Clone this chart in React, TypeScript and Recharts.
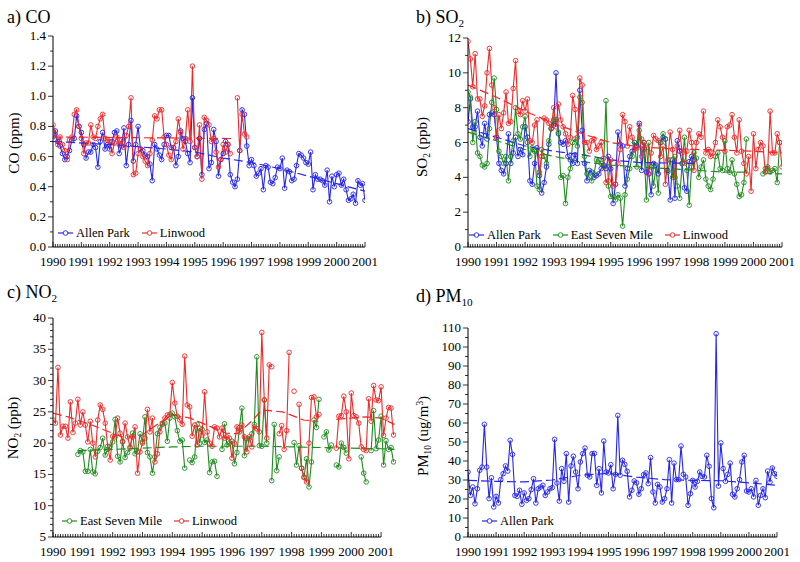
import React from 'react';
import { LineChart, Line, XAxis, YAxis, ReferenceLine } from 'recharts';

const FONT = "'Liberation Serif', Tinos, 'Times New Roman', Times, 'DejaVu Serif', serif";
const BLUE = '#2525ee';
const RED = '#f02828';
const GREEN = '#1f8c1f';

// monthly values, index 0 = Jan 1990
const CO_ALLEN_PARK = [
  0.73, 0.77, 0.70, 0.67, 0.62, 0.58, 0.60, 0.64, 0.71, 0.72, 0.87, 0.80,
  0.76, 0.68, 0.59, 0.63, 0.63, 0.68, 0.66, 0.53, 0.70, 0.76, 0.65, 0.68,
  0.65, 0.70, 0.76, 0.77, 0.62, 0.67, 0.79, 0.54, 0.68, 0.84, 0.57, 0.68,
  0.80, 0.65, 0.64, 0.61, 0.60, 0.55, 0.44, 0.68, 0.65, 0.61, 0.58, 0.68,
  0.74, 0.74, 0.66, 0.66, 0.54, 0.60, 0.77, 0.72, 0.70, 0.62, 0.56, 0.99,
  0.66, 0.60, 0.72, 0.48, 0.78, 0.82, 0.52, 0.56, 0.78, 0.70, 0.47, 0.58,
  0.62, 0.70, 0.68, 0.48, 0.43, 0.40, 0.45, 0.64, 0.91, 0.88, 0.67, 0.54,
  0.58, 0.54, 0.47, 0.49, 0.52, 0.38, 0.54, 0.53, 0.43, 0.42, 0.46, 0.53,
  0.52, 0.59, 0.39, 0.51, 0.50, 0.44, 0.45, 0.54, 0.62, 0.61, 0.59, 0.56,
  0.55, 0.63, 0.38, 0.48, 0.45, 0.45, 0.44, 0.41, 0.51, 0.30, 0.47, 0.40,
  0.48, 0.49, 0.41, 0.45, 0.38, 0.31, 0.32, 0.35, 0.29, 0.44, 0.41, 0.42,
  0.31,
];
const CO_LINWOOD = [
  0.81, 0.75, 0.68, 0.73, 0.68, 0.64, 0.58, 0.71, 0.73, 0.88, 0.91, 0.80,
  0.72, 0.62, 0.69, 0.69, 0.81, 0.73, 0.72, 0.80, 0.85, 0.88, 0.72, 0.71,
  0.70, 0.62, 0.69, 0.73, 0.68, 0.71, 0.66, 0.74, 0.80, 0.99, 0.48, 0.49,
  0.62, 0.65, 0.60, 0.57, 0.54, 0.62, 0.71, 0.87, 0.85, 0.91, 0.91, 0.73,
  0.68, 0.61, 0.58, 0.66, 0.70, 0.85, 0.76, 0.65, 0.72, 0.91, 0.70, 1.20,
  0.66, 0.60, 0.81, 0.45, 0.86, 0.84, 0.81, 0.70, 0.72, 0.63, 0.53, 0.58,
  0.68, 0.63, 0.68, 0.62, null, null, 0.99, 0.64, 0.88, 0.75, 0.73,
];
const CO_AP_TREND: [number, number | null][] = [
  [1990, 0.70], [1992, 0.68], [1994, 0.65], [1995, 0.63], [1996, 0.59], [1997, 0.56],
  [1998, 0.52], [1999, 0.47], [2000, 0.42], [2001, 0.37],
];
const CO_LW_TREND: [number, number | null][] = [[1990, 0.73], [1996.3, 0.72]];

const SO2_ALLEN_PARK = [
  7.2, 8.5, 6.9, 6.9, 7.8, 6.3, 5.8, 7.1, 6.2, 7.6, 7.7, 7.6,
  6.3, 4.8, 4.4, 4.2, 4.8, 6.5, 4.8, 5.4, 6.3, 5.2, 5.6, 5.3,
  6.9, 6.3, 3.8, 3.6, 4.8, 5.7, 4.1, 3.1, 3.7, 4.6, 5.9, 6.8,
  7.0, 10.0, 6.5, 6.0, 5.9, 6.1, 5.2, 5.0, 4.8, 5.3, 4.8, 9.0,
  6.7, 4.8, 3.8, 4.4, 4.3, 4.0, 4.1, 4.2, 4.5, 4.7, 4.5, 5.2,
  4.5, 2.5, 3.6, 6.6, 5.9, 5.8, 3.5, 4.5, 5.2, 5.5, 6.0, 5.8,
  7.1, 4.4, 6.0, 4.3, 4.2, 3.0, 4.8, 4.7, 4.2, 6.0, 6.3, 6.2,
  4.4, 2.7, 5.0, 2.8, 6.1, 5.5, 4.8, 3.4, 3.2, 4.9, 5.2, 5.0,
];
const SO2_EAST_SEVEN_MILE = [
  8.9, 8.6, 6.0, 7.2, 5.4, 5.2, 4.7, 4.6, 4.8, 6.8, 8.3, 9.7,
  7.9, 5.5, 5.2, 4.8, 5.2, 3.8, 5.2, 6.1, 8.0, 6.5, 6.2, 6.9,
  7.5, 6.0, 5.2, 5.7, 5.5, 3.5, 3.3, 5.6, 5.2, 4.8, 6.1, 6.8,
  7.3, 7.3, 6.6, 4.0, 4.1, 2.5, 4.0, 4.5, 6.0, 6.2, 5.8, 8.6,
  8.3, 5.2, 4.2, 4.0, 3.8, 4.2, 5.0, 5.0, 4.8, 4.6, 8.4, 3.5,
  2.9, 2.9, 2.7, 3.0, 2.8, 1.2, 3.0, 3.9, 4.5, 5.2, 6.0, 4.6,
  6.7, 6.2, 5.6, 2.7, 6.0, 4.6, 3.5, 4.6, 3.1, 6.0, 6.5, 6.2,
  4.3, 5.0, 4.0, 5.2, 3.5, 2.8, 4.8, 6.3, 4.4, 2.4, 4.6, 5.4,
  5.1, 4.0, 4.6, 5.0, 3.9, 3.5, 3.3, 3.9, 5.2, 5.4, 4.5, 4.4,
  6.1, 4.5, 4.3, 5.0, 4.2, 3.6, 2.9, 3.0, 3.7, 6.2, null, null,
  null, null, null, null, 4.2, 4.5, 4.6, 4.3, 4.4, 4.5, 3.7, 6.0,
];
const SO2_LINWOOD = [
  11.8, 10.8, 9.2, 11.1, 8.5, 8.5, 7.5, 8.1, 10.0, 11.4, 9.3, 8.0,
  6.3, 7.6, 6.8, 7.7, 8.9, 7.1, 7.2, 9.1, 10.7, 7.8, 7.6, 8.4,
  7.8, 8.5, 6.1, 6.0, 7.0, 7.3, 4.3, 5.2, 7.4, 7.3, 7.1, 6.8,
  8.0, 6.9, 8.2, 7.3, 6.9, 6.5, 5.9, 6.3, 8.7, 7.9, 6.3, 9.7,
  9.3, 6.0, 6.0, 5.5, 6.1, 6.2, 5.6, 5.8, 6.0, 5.1, 3.7, 3.8,
  5.0, 3.5, 3.6, 4.8, 5.6, 7.6, 7.2, 5.8, 6.9, 6.3, 5.6, 5.7,
  7.0, 5.2, 6.0, 5.7, 4.2, 5.4, 6.4, 6.2, 6.1, 5.2, 5.8, 3.6,
  5.0, 6.6, 5.6, 4.0, 5.8, 6.7, 5.4, 4.8, 5.5, 6.7, 6.0, 4.4,
  6.0, 6.5, 6.3, 7.8, 5.4, 5.6, 5.2, 5.4, 6.0, 7.3, 6.9, 6.3,
  5.5, 6.9, 7.0, 7.6, 6.3, 5.4, 7.3, 5.5, 4.8, 4.2, 5.2, 3.2,
  6.5, 4.5, 5.6, 6.0, 5.8, 4.3, 4.5, 7.8, 5.4, 5.4, 6.5, 6.0,
  4.6,
];
const SO2_AP_TREND: [number, number | null][] = [
  [1990, 6.8], [1991, 6.3], [1992, 5.8], [1993, 5.5], [1994, 5.3], [1995, 5.0],
  [1996, 4.85], [1997.92, 4.8],
];
const SO2_ESM_TREND: [number, number | null][] = [
  [1990, 6.6], [1991, 6.1], [1992, 5.6], [1993, 5.2], [1994, 4.9], [1995, 4.7],
  [1996, 4.6], [1997, 4.5], [1998, 4.4], [1999, 4.3], [1999.75, 4.3], [2000, null],
  [2000.33, 4.25], [2001, 4.2],
];
const SO2_LW_TREND: [number, number | null][] = [
  [1990, 9.3], [1991, 8.6], [1992, 7.8], [1993, 7.1], [1994, 6.5], [1995, 6.0],
  [1996, 5.75], [1997, 5.65], [1998, 5.6], [1999, 5.55], [2000, 5.5], [2001, 5.4],
];

const NO2_EAST_SEVEN_MILE = [
  null, null, null, null, null, null, null, null, null, null, 18.2, 18.8,
  18.6, 15.5, 15.5, 19.0, 15.4, 15.1, 18.7, 19.3, 20.8, 18.1, 19.0, 19.5,
  20.2, 23.8, 17.9, 17.0, 20.3, 17.7, 18.5, 19.2, 21.6, 18.3, 18.6, 21.5,
  20.2, 24.2, 18.5, 17.8, 15.2, 17.8, 21.5, 22.5, 23.0, 23.2, 20.3, 24.0,
  24.8, 24.2, 22.0, 20.3, 20.5, 16.0, null, 17.3, 16.9, 17.8, 23.0, 20.0,
  22.2, 20.1, 20.5, 15.3, 17.0, 17.1, 14.7, null, 19.0, 23.1, 19.7, 20.0,
  20.3, 16.7, 18.5, 22.5, 25.6, 18.0, 20.7, 20.7, 21.5, 23.0, 33.8, 19.6,
  19.5, 26.9, 20.0, null, 14.0, 23.0, 15.6, 17.8, null, null, null, null,
  null, 20.1, 16.5, 19.6, 16.0, 14.6, 17.5, 13.0, 17.0, 23.7, 22.5, 27.0,
  null, 21.0, 21.8, 18.9, 19.7, null, 16.5, 16.2, 20.0, 19.3, 18.4, null,
  null, null, null, null, 17.8, 15.2, 13.8, null, 18.8, 25.2, 19.1, 20.5,
  24.3, 16.5, 20.4, 19.0, 19.3, 17.0,
];
const NO2_LINWOOD = [
  23.7, 23.2, 32.1, 21.3, 22.7, 22.7, 20.8, 26.6, 21.7, 23.2, 27.0, 22.9,
  25.0, 22.9, 20.2, 23.5, 20.0, 17.8, 23.7, 26.1, 25.4, 23.2, 19.5, 17.3,
  21.1, 21.0, 24.0, 21.6, 20.2, 23.2, 21.0, 19.4, 21.0, 22.6, 15.2, 18.6,
  20.0, 20.8, 25.4, 21.8, 24.0, 17.0, 18.3, 21.8, 23.2, 24.0, 24.5, 24.6,
  29.7, 26.4, 24.3, 23.7, 23.0, 33.9, 26.1, 25.8, 21.1, 22.9, 19.7, 22.4,
  21.3, 28.2, 21.8, 20.0, 19.5, 22.6, 22.4, 21.0, 22.4, 20.8, 21.0, 20.8,
  17.6, 20.0, 22.6, 21.8, 22.9, 21.0, 18.6, 21.0, 19.4, 22.6, 22.3, 21.8,
  37.7, 26.9, 20.8, 32.5, 32.2, null, null, 21.5, 22.8, 19.0, 22.0, 34.5,
  null, 28.3, null, 26.2, 16.0, 14.5, 13.8, 20.0, 27.3, 27.4, 24.2, 24.6,
  null, null, null, null, null, null, 19.2, 24.3, 24.4, 27.5, 25.0, 17.5,
  28.0, 24.4, 24.2, 23.2, 19.4, 19.0, 18.8, 27.1, 23.5, 29.2, 26.9, 26.8,
  29.0, 21.2, 24.0, 25.7, 25.6, 21.3,
];
const NO2_ESM_TREND: [number, number | null][] = [
  [1990.83, 18.8], [1992, 19.0], [1993, 19.2], [1994, 19.4], [1995, 19.5], [1996, 19.5],
  [1997, 19.5], [1998, 19.4], [1999, 19.3], [2000, 19.2], [2001, 19.1], [2001.45, 19.0],
];
const NO2_LW_TREND: [number, number | null][] = [
  [1990, 24.8], [1990.5, 24.2], [1991.3, 22.9], [1992.3, 21.0], [1992.9, 21.0], [1993.5, 23.0],
  [1994, 24.5], [1994.6, 24.0], [1995.3, 22.6], [1995.8, 21.6], [1996.2, 21.5], [1996.7, 23.7],
  [1997, 25.3], [1997.7, 25.0], [1998.4, 23.7], [1998.9, 23.5], [1999.2, null],
  [1999.5, 23.8], [2000.5, 24.2], [2001, 24.0], [2001.45, 23.0],
];

const PM10_ALLEN_PARK = [
  34.2, 21.9, 26.3, 17.5, 25.4, 35.1, 36.8, 59.3, 36.8, 20.2, 31.2, 15.8,
  21.4, 17.9, 30.2, 33.3, 37.4, 34.7, 50.9, 43.5, 21.9, 21.4, 24.6, 17.2,
  23.2, 19.3, 20.2, 24.9, 30.7, 17.9, 25.4, 26.3, 27.2, 21.9, 23.7, 25.4,
  26.0, 51.4, 28.4, 18.9, 36.0, 29.3, 43.9, 18.4, 37.4, 42.5, 34.2, 25.4,
  39.5, 43.9, 46.8, 32.5, 31.6, 43.9, 44.0, 27.2, 36.0, 23.2, 50.5, 34.2,
  33.7, 38.1, 25.4, 33.0, 64.0, 32.5, 40.4, 38.2, 34.6, 21.1, 24.6, 29.5,
  28.5, 22.5, 25.4, 32.8, 33.7, 28.1, 41.8, 23.7, 17.9, 27.7, 26.3, 18.4,
  20.2, 25.4, 40.7, 17.9, 38.9, 30.2, 30.2, 47.9, 33.0, 31.6, 16.7, 22.8,
  29.8, 26.3, 29.3, 34.2, 31.9, 31.6, 43.0, 37.2, 20.2, 15.4, 107.0, 26.8,
  49.5, 36.0, 29.3, 33.0, 38.9, 22.5, 21.1, 25.4, 30.2, 39.5, 43.0, 24.2,
  23.7, 25.4, 21.1, 29.8, 16.7, 21.9, 25.4, 20.7, 34.7, 28.9, 36.3, 33.3,
  31.9,
];
const PM10_TREND: [number, number | null][] = [
  [1990, 29.8], [1991, 29.3], [1992, 29.0], [1993, 30.0], [1994, 32.5], [1995, 33.5],
  [1996, 31.5], [1997, 30.2], [1998, 29.8], [1999, 29.6], [2000, 28.5], [2001, 27.2],
];

const YEAR_LABELS = ['1990', '1991', '1992', '1993', '1994', '1995', '1996', '1997', '1998', '1999', '2000', '2001'];
const MONTH_TICKS = Array.from({ length: 133 }, (_, i) => 1990 + i / 12);

const monthly = (vals: (number | null)[]) => vals.map((v, i) => ({ x: 1990 + i / 12, y: v }));
const knots = (pts: [number, number | null][]) => pts.map(([x, y]) => ({ x, y }));

const XTick = ({ x, y, payload }: any) => {
  const k = Math.round((payload.value - 1990) * 12);
  const major = k % 12 === 0;
  return (
    <g>
      <line x1={x} x2={x} y1={y} y2={y - (major ? 5 : 3)} stroke="#000" strokeWidth={0.8} />
      {major && (
        <text x={x} y={y + 19} textAnchor="middle" fontSize={13} fontFamily={FONT} fill="#000">
          {YEAR_LABELS[k / 12]}
        </text>
      )}
    </g>
  );
};

const makeYTick = (step: number, digits: number) => ({ x, y, payload }: any) => {
  const r = payload.value / step;
  const major = Math.abs(r - Math.round(r)) < 1e-6;
  return (
    <g>
      <line x1={x} x2={x - (major ? 5 : 3)} y1={y} y2={y} stroke="#000" strokeWidth={0.8} />
      {major && (
        <text x={x - 7} y={y + 4} textAnchor="end" fontSize={13} fontFamily={FONT} fill="#000">
          {payload.value.toFixed(digits)}
        </text>
      )}
    </g>
  );
};

type S = { data: (number | null)[]; color: string };
type T = { pts: [number, number | null][]; color: string };

function Panel(props: {
  left: number; top: number; w: number; h: number;
  margin: { top: number; right: number; bottom: number; left: number };
  xMax: number; yDomain: [number, number]; yTicks: number[]; yStep: number; digits: number;
  series: S[]; trends: T[]; shortAxis?: boolean;
}) {
  const { left, top, w, h, margin, xMax, yDomain, yTicks, yStep, digits, series, trends, shortAxis } = props;
  return (
    <div style={{ position: 'absolute', left, top }}>
      <LineChart width={w} height={h} margin={margin}>
        <XAxis
          type="number"
          dataKey="x"
          domain={[1990, xMax]}
          allowDataOverflow
          ticks={MONTH_TICKS}
          interval={0}
          tick={XTick}
          tickLine={false}
          tickSize={0}
          tickMargin={0}
          height={20}
          axisLine={shortAxis ? false : { stroke: '#000' }}
        />
        <YAxis
          type="number"
          domain={yDomain}
          allowDataOverflow
          ticks={yTicks}
          interval={0}
          tick={makeYTick(yStep, digits)}
          tickLine={false}
          tickSize={0}
          tickMargin={0}
          width={40}
          axisLine={{ stroke: '#000' }}
        />
        {shortAxis && (
          <ReferenceLine
            segment={[{ x: 1990, y: yDomain[0] }, { x: 2001, y: yDomain[0] }]}
            stroke="#000"
          />
        )}
        {series.map((s, i) => (
          <Line
            key={'s' + i}
            data={monthly(s.data)}
            dataKey="y"
            type="linear"
            stroke={s.color}
            strokeWidth={1.1}
            dot={{ r: 2.3, fill: 'none', stroke: s.color, strokeWidth: 0.9 }}
            activeDot={false}
            isAnimationActive={false}
          />
        ))}
        {trends.map((t, i) => (
          <Line
            key={'t' + i}
            data={knots(t.pts)}
            dataKey="y"
            type="linear"
            stroke={t.color}
            strokeWidth={1.2}
            strokeDasharray="9 4"
            dot={false}
            activeDot={false}
            isAnimationActive={false}
          />
        ))}
      </LineChart>
    </div>
  );
}

const LegendRow = ({ left, top, items }: { left: number; top: number; items: { label: string; color: string }[] }) => (
  <div style={{ position: 'absolute', left, top, display: 'flex', alignItems: 'center', fontFamily: FONT, fontSize: 12.5, lineHeight: '14px', whiteSpace: 'nowrap' }}>
    {items.map((it) => (
      <span key={it.label} style={{ display: 'inline-flex', alignItems: 'center', marginRight: 12 }}>
        <svg width={15} height={8}>
          <line x1={0} y1={4} x2={15} y2={4} stroke={it.color} strokeWidth={1.2} />
          <circle cx={7.5} cy={4} r={2.3} fill="white" stroke={it.color} strokeWidth={0.9} />
        </svg>
        <span style={{ marginLeft: 3 }}>{it.label}</span>
      </span>
    ))}
  </div>
);

const subStyle: React.CSSProperties = { fontSize: '0.62em', position: 'relative', top: '0.35em', verticalAlign: 'baseline' };
const supStyle: React.CSSProperties = { fontSize: '0.62em', position: 'relative', top: '-0.5em', verticalAlign: 'baseline' };

const Title = ({ left, top, children }: any) => (
  <div style={{ position: 'absolute', left, top, fontFamily: FONT, fontSize: 18, lineHeight: '18px', whiteSpace: 'nowrap' }}>{children}</div>
);

const YLabel = ({ cx, cy, children }: any) => (
  <div style={{ position: 'absolute', left: cx, top: cy, transform: 'translate(-50%, -50%) rotate(-90deg)', fontFamily: FONT, fontSize: 15, lineHeight: '16px', whiteSpace: 'nowrap' }}>{children}</div>
);

const ticksBy = (from: number, to: number, step: number) => {
  const out: number[] = [];
  const n = Math.round((to - from) / step);
  for (let i = 0; i <= n; i++) out.push(Math.round((from + i * step) * 1000) / 1000);
  return out;
};

export default function App() {
  return (
    <div style={{ position: 'absolute', left: 0, top: 0, width: 800, height: 562, background: '#fff', overflow: 'hidden', fontFamily: FONT }}>
      <Panel
        left={0} top={0} w={400} h={280}
        margin={{ top: 36, right: 35, bottom: 13, left: 13 }}
        xMax={2001} yDomain={[0, 1.4]} yTicks={ticksBy(0, 1.4, 0.1)} yStep={0.2} digits={1}
        series={[{ data: CO_ALLEN_PARK, color: BLUE }, { data: CO_LINWOOD, color: RED }]}
        trends={[{ pts: CO_AP_TREND, color: BLUE }, { pts: CO_LW_TREND, color: RED }]}
      />
      <Panel
        left={400} top={0} w={400} h={280}
        margin={{ top: 38, right: 18, bottom: 13, left: 28 }}
        xMax={2001} yDomain={[0, 12]} yTicks={ticksBy(0, 12, 1)} yStep={2} digits={0}
        series={[
          { data: SO2_ALLEN_PARK, color: BLUE },
          { data: SO2_EAST_SEVEN_MILE, color: GREEN },
          { data: SO2_LINWOOD, color: RED },
        ]}
        trends={[
          { pts: SO2_AP_TREND, color: BLUE },
          { pts: SO2_ESM_TREND, color: GREEN },
          { pts: SO2_LW_TREND, color: RED },
        ]}
      />
      <Panel
        left={0} top={280} w={400} h={282}
        margin={{ top: 38, right: 4, bottom: 5, left: 13 }}
        xMax={2001.5} yDomain={[5, 40]} yTicks={ticksBy(5, 40, 1)} yStep={5} digits={0}
        series={[{ data: NO2_EAST_SEVEN_MILE, color: GREEN }, { data: NO2_LINWOOD, color: RED }]}
        trends={[{ pts: NO2_ESM_TREND, color: GREEN }, { pts: NO2_LW_TREND, color: RED }]}
        shortAxis
      />
      <Panel
        left={400} top={280} w={400} h={282}
        margin={{ top: 48, right: 23, bottom: 5, left: 28 }}
        xMax={2001} yDomain={[0, 110]} yTicks={ticksBy(0, 110, 5)} yStep={10} digits={0}
        series={[{ data: PM10_ALLEN_PARK, color: BLUE }]}
        trends={[{ pts: PM10_TREND, color: BLUE }]}
      />

      <Title left={7} top={8}>a) CO</Title>
      <Title left={416} top={8}>b) SO<span style={subStyle}>2</span></Title>
      <Title left={7} top={283}>c) NO<span style={subStyle}>2</span></Title>
      <Title left={416} top={287}>d) PM<span style={subStyle}>10</span></Title>

      <YLabel cx={14} cy={143}>CO (ppm)</YLabel>
      <YLabel cx={423} cy={147}>SO<span style={subStyle}>2</span> (ppb)</YLabel>
      <YLabel cx={14} cy={428}>NO<span style={subStyle}>2</span> (ppb)</YLabel>
      <YLabel cx={424} cy={436}>PM<span style={subStyle}>10</span> (ug/m<span style={supStyle}>3</span>)</YLabel>

      <LegendRow left={58} top={226} items={[{ label: 'Allen Park', color: BLUE }, { label: 'Linwood', color: RED }]} />
      <LegendRow
        left={469} top={228}
        items={[
          { label: 'Allen Park', color: BLUE },
          { label: 'East Seven Mile', color: GREEN },
          { label: 'Linwood', color: RED },
        ]}
      />
      <LegendRow left={62} top={514} items={[{ label: 'East Seven Mile', color: GREEN }, { label: 'Linwood', color: RED }]} />
      <LegendRow left={482} top={514} items={[{ label: 'Allen Park', color: BLUE }]} />
    </div>
  );
}
